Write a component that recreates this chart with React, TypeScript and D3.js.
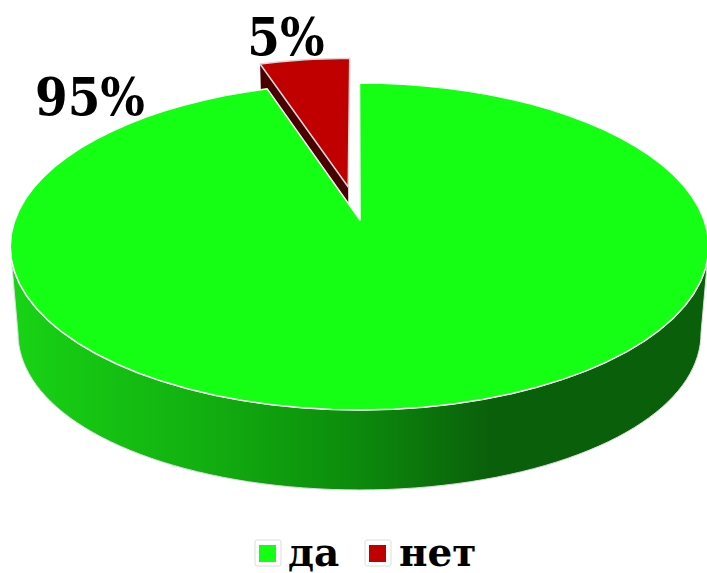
import React from "react";
import * as d3 from "d3";

const categories = ["да", "нет"];
const values = [95, 5];
const labels = ["95%", "5%"];
const colors = ["#14ff14", "#c00000"];
const sideColor = "#4a0000";
const wallStops: [number, string][] = [
  [0, "#18d415"], [0.27, "#12b010"], [0.5, "#0c8a0c"], [0.69, "#0a5f0a"], [1, "#0a5f0a"],
];

const W = 707, H = 573;
const R = 344.6, C = 0.162, A = -123.55, B = 220, CX = 359.5, AX = 360;
const EXPLODE = 0.217;

type Pt = [number, number];
const topP = (u: number, v: number): Pt => {
  const w = 1 + C * v;
  return [CX + (R * u) / w, (A * v + B) / w];
};
const botP = (u: number, v: number): Pt => {
  const p = topP(u, v);
  const d = 76 - 4 * v + 10 * u * u;
  return [CX + (p[0] - CX) * 0.978, p[1] + d];
};
const line = d3.line<Pt>();
const uv = (a: number): Pt => [Math.sin(a), Math.cos(a)];

export default function App() {
  const arcs = d3.pie<number>().sort(null).value((d) => d)(values);
  const g = arcs[0], r = arcs[1];
  const gs = d3.range(0, 81).map((i) => g.startAngle + ((g.endAngle - g.startAngle) * i) / 80);
  const greenTop: Pt[] = [[AX, B], ...gs.map((a) => topP(...uv(a)))];

  const mid = (r.startAngle + r.endAngle) / 2;
  const off: Pt = [Math.sin(mid) * EXPLODE, Math.cos(mid) * EXPLODE];
  const rs = d3.range(0, 11).map((i) => r.startAngle + ((r.endAngle - r.startAngle) * i) / 10);
  const redTop: Pt[] = [
    topP(off[0], off[1]),
    ...rs.map((a) => topP(off[0] + Math.sin(a), off[1] + Math.cos(a))),
  ];
  const su = off[0] + Math.sin(r.startAngle), sv = off[1] + Math.cos(r.startAngle);
  const redFace: Pt[] = [
    topP(off[0], off[1]),
    topP(su, sv),
    botP(su, sv),
    botP(off[0], off[1]),
  ];

  const front = d3.range(0, 81).map((i) => Math.PI * 0.552 + (Math.PI * 0.896 * i) / 80);
  const wall: Pt[] = [
    ...front.map((a) => topP(...uv(a))),
    ...front.slice().reverse().map((a) => botP(...uv(a))),
  ];

  return (
    <svg width={W} height={H} style={{ position: "absolute", left: 0, top: 0 }} fontFamily="'DejaVu Serif', serif" fontWeight="bold">
      <defs>
        <linearGradient id="wall" x1="0" x2="1" y1="0" y2="0">
          {wallStops.map(([o, c]) => <stop key={o} offset={o} stopColor={c} />)}
        </linearGradient>
      </defs>
      <path d={line(wall) + "Z"} fill="url(#wall)" stroke="#ddd" strokeWidth={1} />
      <path d={line(redFace) + "Z"} fill={sideColor} />
      <path d={line(redTop) + "Z"} fill={colors[1]} stroke="#d8d8d8" strokeWidth={1.5} strokeLinejoin="round" />
      <path d={line(greenTop) + "Z"} fill={colors[0]} stroke="#fff" strokeWidth={1.5} strokeLinejoin="round" />
      <text transform="translate(90,115) scale(1,1.1)" textAnchor="middle" fontSize={47} fill="#000">{labels[0]}</text>
      <text transform="translate(286,55) scale(1,1.1)" textAnchor="middle" fontSize={47} fill="#000">{labels[1]}</text>
      <g>
        <rect x={255} y={540} width={26} height={26} rx={2} fill="#fff" stroke="#ddd" />
        <rect x={259} y={545} width={17} height={17} fill={colors[0]} />
        <text x={288} y={566} fontSize={39} fill="#000">{categories[0]}</text>
        <rect x={365} y={540} width={26} height={26} rx={2} fill="#fff" stroke="#ddd" />
        <rect x={369} y={545} width={17} height={17} fill={colors[1]} />
        <text x={399} y={566} fontSize={39} fill="#000">{categories[1]}</text>
      </g>
    </svg>
  );
}
